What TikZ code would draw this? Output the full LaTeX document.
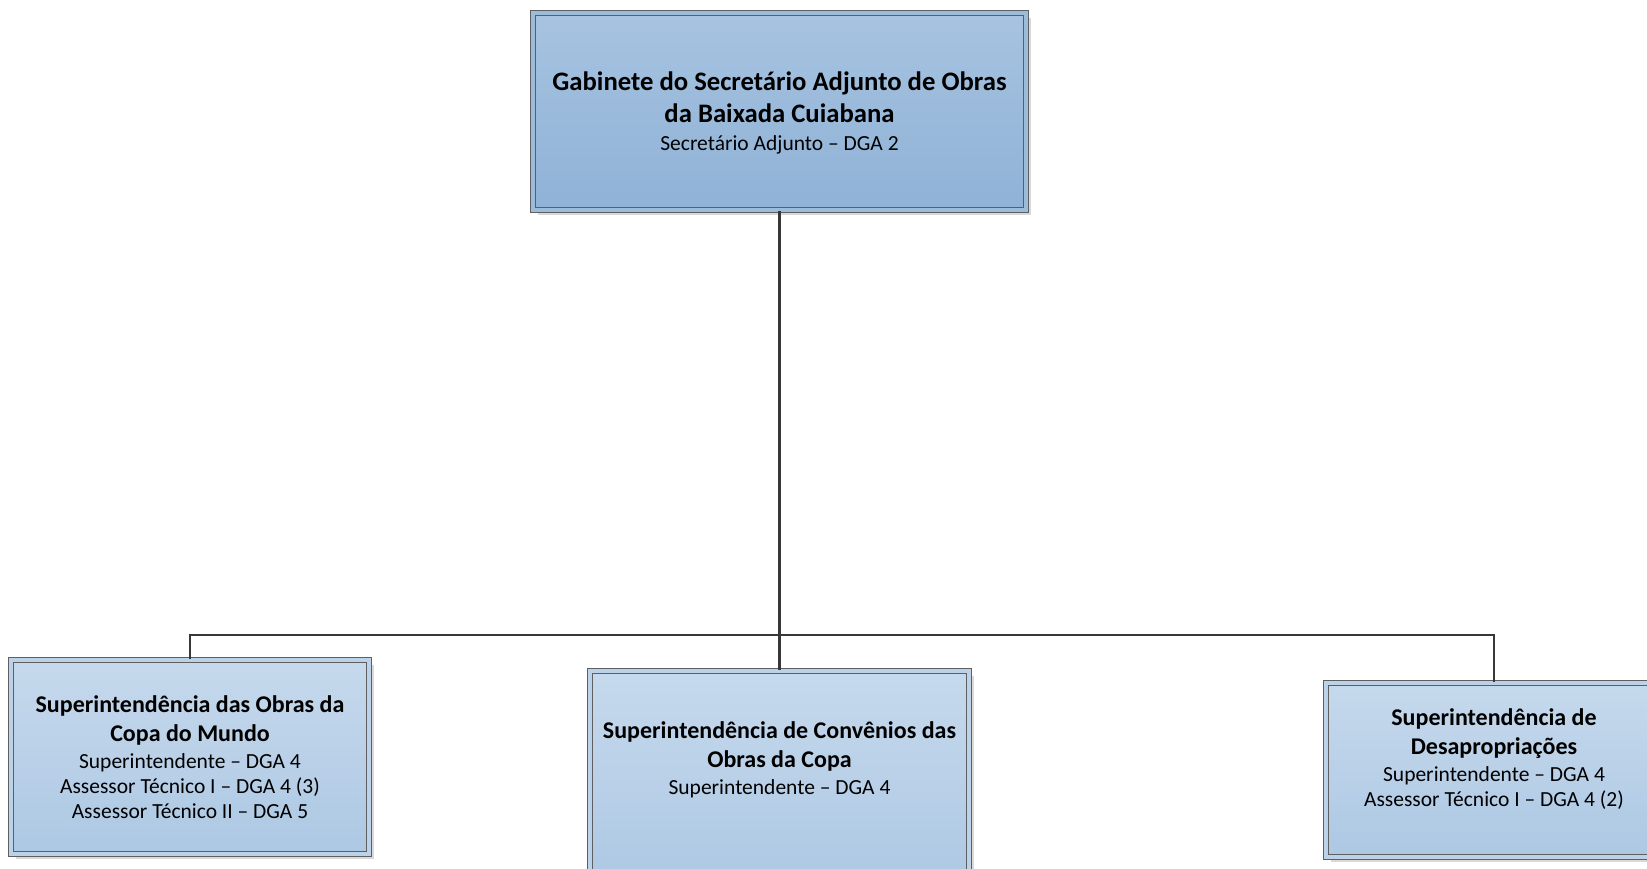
\documentclass[tikz,border=0pt]{standalone}
\usepackage{fontspec}
\setmainfont{Carlito}
\usepackage{tikz}
\usetikzlibrary{%
	shadows,%
	positioning%
}

\definecolor{headtop}{RGB}{167,195,224}
\definecolor{headbot}{RGB}{143,178,215}
\definecolor{subtop}{RGB}{198,217,236}
\definecolor{subbot}{RGB}{173,200,228}
\definecolor{edgegray}{RGB}{95,95,95}
\definecolor{linkgray}{RGB}{55,55,55}

\newcommand{\unittitle}[1]{{\fontsize{24}{25}\selectfont\bfseries #1}}
\newcommand{\headtitle}[1]{{\fontsize{26.7}{25}\selectfont\bfseries #1}}

\begin{document}
\begin{tikzpicture}[x=1pt,y=-1pt,
	unitbox/.style={draw=edgegray,line width=1.1pt,double distance=3.6pt,
		align=center,inner sep=0pt,
		font=\fontsize{21.5}{25}\selectfont,
		drop shadow={shadow xshift=5pt,shadow yshift=-5pt,fill=black,opacity=0.15}},
	headbox/.style={unitbox,top color=headtop,bottom color=headbot,double=headtop!60!headbot},
	subbox/.style={unitbox,top color=subtop,bottom color=subbot,double=subtop!60!subbot},
	link/.style={draw=linkgray,line width=2.4pt}]
				\useasboundingbox (0,0) rectangle (1647,868);
				
				% Boxes
				\node[headbox,minimum width=493,minimum height=197,text depth=-5pt] (gabinete) at (779.5,111.5)
					{\headtitle{Gabinete do Secretário Adjunto de Obras}\\[6.5pt]
					 \headtitle{da Baixada Cuiabana}\\[3.5pt]
					 Secretário Adjunto – DGA 2};
				\node[subbox,minimum width=358,minimum height=194,text depth=-2pt] (copa) at (190,757)
					{\unittitle{Superintendência das Obras da}\\[4pt]
					 \unittitle{Copa do Mundo}\\[2pt]
					 Superintendente – DGA 4\\
					 Assessor Técnico I – DGA 4 (3)\\
					 Assessor Técnico II – DGA 5};
				\node[subbox,minimum width=379,minimum height=214,text depth=40pt] (convenios) at (779.5,778)
					{\unittitle{Superintendência de Convênios das}\\[4pt]
					 \unittitle{Obras da Copa}\\[2pt]
					 Superintendente – DGA 4};
				\node[subbox,minimum width=336,minimum height=174,text depth=24pt] (desaprop) at (1494,770)
					{\unittitle{Superintendência de}\\[4pt]
					 \unittitle{Desapropriações}\\[2pt]
					 Superintendente – DGA 4\\
					 Assessor Técnico I – DGA 4 (2)};
				
				% Connectors
				\coordinate (junction) at (779.5,635);
				\draw[link] (gabinete.south) -- (junction);
				\draw[link] (copa.north) |- (junction) -| (desaprop.north);
				\draw[link] (junction) -- (convenios.north);
			\end{tikzpicture}
\end{document}
